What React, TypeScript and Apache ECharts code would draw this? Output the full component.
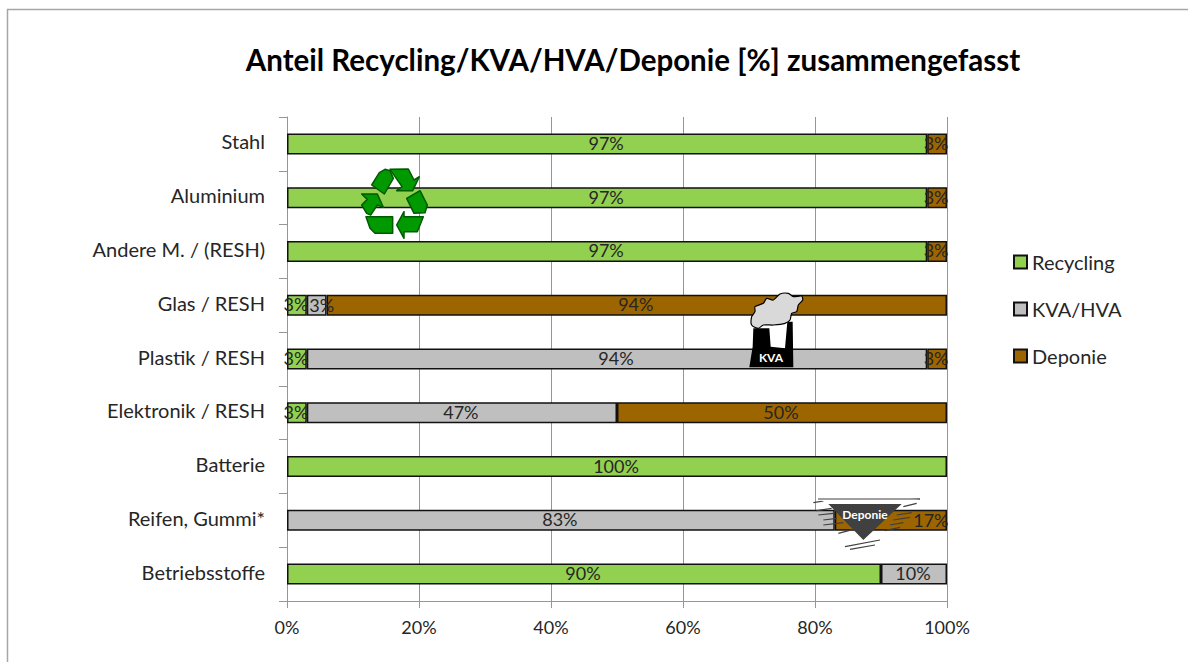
import React, { useEffect, useRef } from "react";
import * as echarts from "echarts";

const categories = ["Stahl", "Aluminium", "Andere M. / (RESH)", "Glas / RESH", "Plastik / RESH", "Elektronik / RESH", "Batterie", "Reifen, Gummi*", "Betriebsstoffe"];
const recycling = [97, 97, 97, 3, 3, 3, 100, null, 90];
const kvaHva = [null, null, null, 3, 94, 47, null, 83, 10];
const deponie = [3, 3, 3, 94, 3, 50, null, 17, null];
const titleText = "Anteil Recycling/KVA/HVA/Deponie [%] zusammengefasst";
const FONT = "Lato, Carlito, sans-serif";

const recyclePieces = [
  [[95, 105], [118, 68], [135, 58], [150, 62], [160, 85], [133, 132]],
  [[150, 58], [205, 57], [222, 90], [238, 80], [218, 122], [170, 122], [186, 110]],
  [[200, 145], [240, 122], [262, 165], [255, 188], [222, 190]],
  [[250, 200], [232, 245], [192, 245], [192, 265], [170, 225], [192, 185], [192, 200]],
  [[78, 200], [158, 200], [158, 250], [105, 250], [90, 235]],
  [[65, 132], [112, 132], [130, 172], [112, 165], [92, 195], [80, 190], [65, 165], [82, 148]],
];
const factory = [[70, 145], [118, 145], [122, 200], [165, 205], [172, 125], [188, 125], [190, 262], [58, 262], [68, 200]];
const cloud = [[65, 135], [65, 110], [75, 95], [75, 80], [100, 70], [110, 55], [130, 60], [150, 42], [175, 40], [190, 50], [215, 48], [218, 60], [205, 75], [200, 95], [185, 100], [180, 120], [165, 130], [130, 135], [100, 135], [85, 145]];
const hatch = [
  [40, 38, 90, 30], [50, 62, 95, 55], [55, 75, 100, 70], [70, 90, 110, 85], [70, 105, 130, 98], [115, 130, 160, 118],
  [300, 30, 360, 27], [310, 50, 350, 40], [290, 75, 335, 68], [280, 90, 330, 82], [270, 105, 310, 98], [255, 122, 300, 112],
  [135, 170, 240, 150], [150, 178, 225, 165],
];

const map = (pts: number[][], ox: number, oy: number) => pts.map(([x, y]) => [ox + x / 3, oy + y / 3]);

function icons() {
  const out: any[] = [];
  recyclePieces.forEach((p) =>
    out.push({ type: "polygon", z: 10, shape: { points: map(p, 340, 150) }, style: { fill: "#009900", stroke: "#005a00", lineWidth: 1.5, lineJoin: "round" } })
  );
  out.push({ type: "polygon", z: 10, shape: { points: map(factory, 730, 280) }, style: { fill: "#000000" } });
  out.push({ type: "polygon", z: 11, shape: { points: map(cloud, 730, 280), smooth: 0.25 }, style: { fill: "#d9d9d9", stroke: "#000000", lineWidth: 1.2 } });
  out.push({ type: "text", z: 12, x: 771, y: 357, style: { text: "KVA", fill: "#ffffff", font: `bold 12px ${FONT}`, align: "center", verticalAlign: "middle" } });
  hatch.forEach(([a, b, c, d]) =>
    out.push({ type: "line", z: 10, shape: { x1: 800 + a / 3, y1: 490 + b / 3, x2: 800 + c / 3, y2: 490 + d / 3 }, style: { stroke: "#404040", lineWidth: 1.2 } })
  );
  out.push({ type: "polygon", z: 11, shape: { points: map([[55, 27], [360, 27], [305, 42], [85, 42]], 800, 490) }, style: { fill: "#ffffff" } });
  out.push({ type: "line", z: 12, shape: { x1: 818, y1: 499, x2: 920, y2: 499 }, style: { stroke: "#404040", lineWidth: 1 } });
  out.push({ type: "polygon", z: 12, shape: { points: map([[85, 42], [305, 42], [190, 150]], 800, 490) }, style: { fill: "#404040" } });
  out.push({ type: "text", z: 13, x: 865, y: 514, style: { text: "Deponie", fill: "#ffffff", font: `bold 12px ${FONT}`, align: "center", verticalAlign: "middle" } });
  return out;
}

// Labels the reference shows moved away from the segment's centre: [row, dx]
const barSeries = (name: string, data: (number | null)[], color: string, shifted: number[][] = []) => ({
  name,
  type: "bar",
  stack: "total",
  data: data.map((value, i) => {
    const s = shifted.find(([row]) => row === i);
    return s ? { value, label: { offset: [s[1], 0] } } : value;
  }),
  barWidth: 21,
  itemStyle: { color, borderColor: "#111111", borderWidth: 1.5 },
  label: { show: true, position: "inside", formatter: "{c}%", color: "#262626", fontFamily: FONT, fontSize: 18, offset: [-1, -1] },
});

export default function App() {
  const ref = useRef<HTMLDivElement>(null);
  useEffect(() => {
    const chart = echarts.init(ref.current!, null, { renderer: "svg" });
    chart.setOption({
      animation: false,
      backgroundColor: "#ffffff",
      title: { text: titleText, left: 628, top: 39, textAlign: "center", textStyle: { fontFamily: FONT, fontSize: 29.5, fontWeight: "bold", color: "#000000" } },
      grid: { left: 287, right: 241, top: 117, bottom: 61, containLabel: false },
      xAxis: {
        type: "value", min: 0, max: 100, interval: 20,
        axisLine: { show: true, lineStyle: { color: "#969696" } },
        axisTick: { show: true, length: 7, lineStyle: { color: "#969696" } },
        splitLine: { show: true, lineStyle: { color: "#969696", width: 1 } },
        axisLabel: { formatter: "{value}%", margin: 17, color: "#262626", fontFamily: FONT, fontSize: 18 },
      },
      yAxis: {
        type: "category", inverse: true, data: categories,
        axisLine: { show: true, lineStyle: { color: "#969696" } },
        axisTick: { show: true, length: 8, alignWithLabel: false, lineStyle: { color: "#969696" } },
        axisLabel: {
          margin: 22,
          formatter: (v: string) => `{a|${v}}`,
          rich: { a: { color: "#262626", fontFamily: FONT, fontSize: 20, padding: [0, 0, 5, 0] } },
        },
      },
      legend: {
        orient: "vertical", left: 1008, top: 247, itemGap: 27, itemWidth: 13, itemHeight: 13, icon: "rect",
        textStyle: { color: "#262626", fontFamily: FONT, fontSize: 20 },
        data: ["Recycling", "KVA/HVA", "Deponie"],
      },
      series: [
        barSeries("Recycling", recycling, "#92d050"),
        barSeries("KVA/HVA", kvaHva, "#bfbfbf", [[3, 5]]),
        barSeries("Deponie", deponie, "#9c6500", [[7, 40]]),
      ],
      graphic: [
        { type: "polyline", z: 1, shape: { points: [[7.5, 662], [7.5, 9.5], [1188, 9.5]] }, style: { stroke: "#a6a6a6", fill: "none", lineWidth: 1.5 } },
        ...icons(),
      ],
    });
    return () => chart.dispose();
  }, []);
  return <div ref={ref} style={{ width: 1188, height: 662, position: "fixed", left: 0, top: 0 }} />;
}
